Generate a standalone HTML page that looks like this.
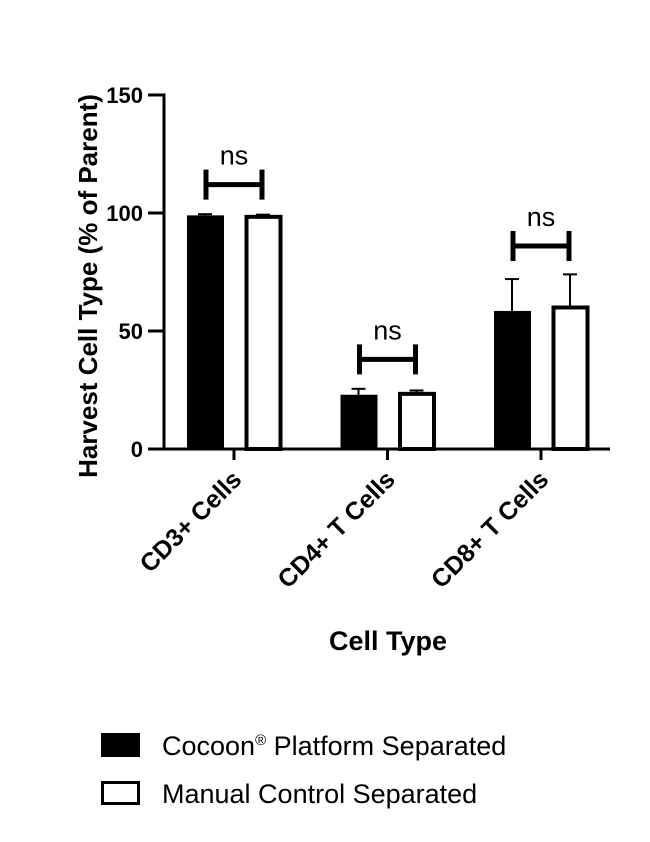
<!DOCTYPE html>
<html><head><meta charset="utf-8"><style>
html,body{margin:0;padding:0;background:#fff;}
svg{display:block;font-family:"Liberation Sans",Arial,sans-serif;}
</style></head><body>
<svg id="chart" width="650" height="842" viewBox="0 0 650 842">
<g id="plot"></g>
<text transform="translate(97,286) rotate(-90)" text-anchor="middle" font-size="26" font-weight="bold">Harvest Cell Type (% of Parent)</text>
<text x="388" y="650" text-anchor="middle" font-size="27" font-weight="bold">Cell Type</text>
<g>
<g>
<rect x="101" y="733" width="39" height="24" fill="#000"/>
<text x="162" y="755" font-size="27">Cocoon<tspan font-size="15" dy="-10">®</tspan><tspan dy="10"> Platform Separated</tspan></text>
</g>
<g>
<rect x="102.5" y="782.5" width="36" height="21" fill="#fff" stroke="#000" stroke-width="3"/>
<text x="162" y="803" font-size="27">Manual Control Separated</text>
</g>
</g>
</svg>
<script>
const categories = ["CD3+ Cells", "CD4+ T Cells", "CD8+ T Cells"];
const cocoonValues = [99, 23, 58.5];
const cocoonErrors = [0.5, 2.5, 13.5];
const manualValues = [99, 24, 60.6];
const manualErrors = [0.3, 0.8, 13.4];
const yTicks = [0, 50, 100, 150];
const sigLabels = ["ns", "ns", "ns"];
const sigLevels = [112, 38, 86];

const NS = "http://www.w3.org/2000/svg";
const plot = document.getElementById("plot");
const x0 = 164, y0 = 449, pxPerUnit = 2.36;
function yScale(v){ return y0 - v * pxPerUnit; }
function xScale(i){ return 234 + i * 153.5; }
function mk(tag, attrs){ const e = document.createElementNS(NS, tag); for (const k in attrs) e.setAttribute(k, attrs[k]); plot.appendChild(e); return e; }

categories.forEach((c, i) => {
  const cx = xScale(i);
  const bTop = yScale(cocoonValues[i]);
  const eb = mk("line", {x1: cx-29, x2: cx-29, y1: yScale(cocoonValues[i]+cocoonErrors[i]), y2: bTop, stroke: "#000", "stroke-width": 2});
  
  
  const ec = mk("line", {x1: cx-36, x2: cx-22, y1: yScale(cocoonValues[i]+cocoonErrors[i]), y2: yScale(cocoonValues[i]+cocoonErrors[i]), stroke: "#000", "stroke-width": 2});
  
  
  const b = mk("rect", {x: cx-47, y: bTop, width: 37, height: y0 - bTop, fill: "#000"});
  
  
  const mTop = yScale(manualValues[i]);
  const mb = mk("line", {x1: cx+29, x2: cx+29, y1: yScale(manualValues[i]+manualErrors[i]), y2: mTop, stroke: "#000", "stroke-width": 2});
  
  
  const mc = mk("line", {x1: cx+22, x2: cx+36, y1: yScale(manualValues[i]+manualErrors[i]), y2: yScale(manualValues[i]+manualErrors[i]), stroke: "#000", "stroke-width": 2});
  
  
  const m = mk("rect", {x: cx+12.5, y: mTop+1.5, width: 34, height: y0 - mTop - 1.5, fill: "#fff", stroke: "#000", "stroke-width": 4});
  
  
  const sy = yScale(sigLevels[i]);
  const g = mk("path", {d: `M${cx-28},${sy-15}V${sy+15}M${cx-28},${sy}H${cx+28}M${cx+28},${sy-15}V${sy+15}`, fill: "none", stroke: "#000", "stroke-width": 5});
  
  
  const st = mk("text", {x: cx, y: sy-20, "text-anchor": "middle", "font-size": 27});
  st.textContent = sigLabels[i];
  
  
  const t = mk("line", {x1: cx, x2: cx, y1: y0, y2: y0+11, stroke: "#000", "stroke-width": 3});
  
  
  const lb = mk("text", {transform: `translate(${cx+9},${y0+32}) rotate(-45)`, "text-anchor": "end", "font-size": 25, "font-weight": "bold"});
  lb.textContent = c;
  
  
});

yTicks.forEach(v => {
  const y = yScale(v);
  const t = mk("line", {x1: x0-16, x2: x0, y1: y, y2: y, stroke: "#000", "stroke-width": 3});
  
  
  const l = mk("text", {x: x0-21, y: y+8, "text-anchor": "end", "font-size": 22, "font-weight": "bold"});
  l.textContent = v;
  
  
});
const ya = mk("line", {x1: x0, x2: x0, y1: yScale(150)-1.5, y2: y0+1.5, stroke: "#000", "stroke-width": 3});


const xa = mk("line", {x1: x0, x2: 610, y1: y0, y2: y0, stroke: "#000", "stroke-width": 3});


</script>
</body></html>
